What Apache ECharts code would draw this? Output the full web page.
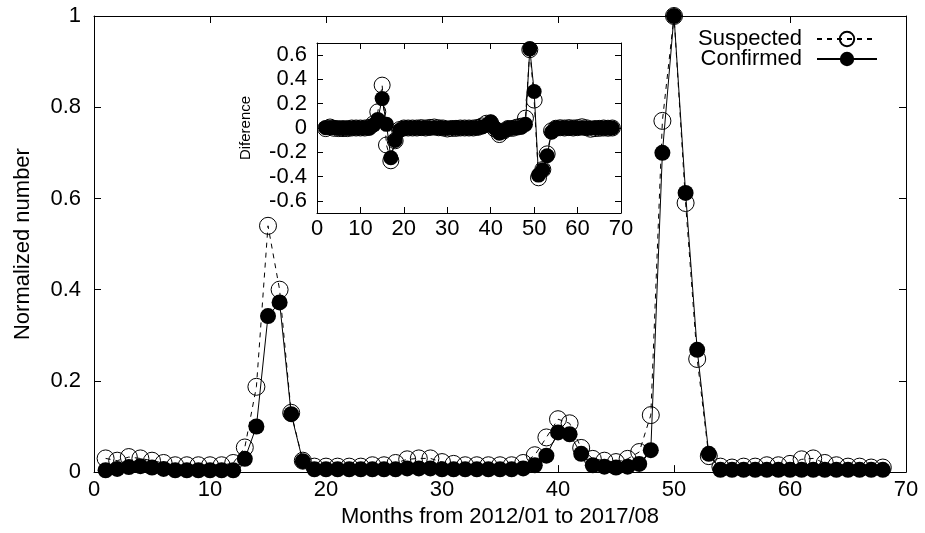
<!DOCTYPE html>
<html>
<head>
<meta charset="utf-8">
<script src="https://cdn.jsdelivr.net/npm/echarts@6/dist/echarts.min.js"></script>
<style>html,body{margin:0;padding:0;background:#fff}#c{width:925px;height:533px}</style>
</head>
<body>
<div id="c"></div>
<script>
// Main chart: months 1..68 (2012/01 .. 2017/08)
var months = [];
for (var i = 1; i <= 68; i++) months.push(i);
var suspected = [
  0.030, 0.025, 0.033, 0.030, 0.025, 0.020, 0.015, 0.015, 0.015, 0.015,
  0.015, 0.020, 0.054, 0.187, 0.540, 0.400, 0.130, 0.025, 0.012, 0.012,
  0.012, 0.012, 0.012, 0.015, 0.015, 0.020, 0.028, 0.030, 0.030, 0.022,
  0.018, 0.015, 0.015, 0.015, 0.015, 0.015, 0.020, 0.037, 0.076, 0.116,
  0.107, 0.053, 0.029, 0.025, 0.022, 0.029, 0.044, 0.125, 0.770, 1.000,
  0.590, 0.248, 0.035, 0.012, 0.010, 0.012, 0.012, 0.015, 0.015, 0.018,
  0.028, 0.030, 0.020, 0.015, 0.012, 0.012, 0.010, 0.010
];
var confirmed = [
  0.004, 0.007, 0.011, 0.013, 0.010, 0.007, 0.004, 0.004, 0.004, 0.004,
  0.004, 0.004, 0.029, 0.100, 0.342, 0.372, 0.127, 0.024, 0.006, 0.006,
  0.006, 0.006, 0.006, 0.006, 0.006, 0.006, 0.008, 0.008, 0.008, 0.006,
  0.006, 0.006, 0.006, 0.006, 0.006, 0.006, 0.008, 0.015, 0.036, 0.087,
  0.083, 0.040, 0.015, 0.012, 0.010, 0.012, 0.018, 0.048, 0.700, 1.000,
  0.612, 0.268, 0.040, 0.005, 0.005, 0.005, 0.005, 0.005, 0.005, 0.005,
  0.005, 0.005, 0.005, 0.005, 0.005, 0.005, 0.005, 0.005
];
// Inset: difference, months 2..68
var diffMonths = [];
for (var j = 2; j <= 68; j++) diffMonths.push(j);
var suspectedDiff = [
  -0.005, 0.008, -0.003, -0.005, -0.005, -0.005, 0, 0, 0, 0,
  0.005, 0.034, 0.133, 0.353, -0.140, -0.270, -0.105, -0.013, 0, 0,
  0, 0, 0.003, 0, 0.005, 0.008, 0.002, 0, -0.008, -0.004,
  -0.003, 0, 0, 0, 0, 0.005, 0.017, 0.039, 0.040, -0.009,
  -0.054, -0.024, -0.004, -0.003, 0.007, 0.015, 0.081, 0.645, 0.230, -0.410,
  -0.342, -0.213, -0.023, -0.002, 0.002, 0, 0.003, 0, 0.003, 0.010,
  0.002, -0.010, -0.005, -0.003, 0, -0.002, 0
];
var confirmedDiff = [
  0.003, 0.004, 0.002, -0.003, -0.003, -0.003, 0, 0, 0, 0,
  0, 0.025, 0.071, 0.242, 0.030, -0.245, -0.103, -0.018, 0, 0,
  0, 0, 0, 0, 0, 0.002, 0, 0, -0.002, 0,
  0, 0, 0, 0, 0, 0.002, 0.009, 0.021, 0.051, -0.004,
  -0.043, -0.025, -0.003, -0.002, 0.002, 0.006, 0.030, 0.652, 0.300, -0.388,
  -0.344, -0.228, -0.035, 0, 0, 0, 0, 0, 0, 0,
  0, 0, 0, 0, 0, 0, 0
];
var mainYTicks = [0, 0.2, 0.4, 0.6, 0.8, 1];
var insetYTicks = [-0.6, -0.4, -0.2, 0, 0.2, 0.4, 0.6];

function pairs(xs, ys) { return xs.map(function (x, k) { return [x, ys[k]]; }); }

var FONT = "'Liberation Sans', Arial, Helvetica, sans-serif";
var FS = 22;
var lineAx = { show: true, onZero: false, lineStyle: { color: '#000', width: 1 } };
function xAx(grid, pos, labels, tickLen, margin, extra) {
  var o = {
    type: 'value', gridIndex: grid, position: pos, min: 0, max: 70, interval: 10,
    axisLine: lineAx, splitLine: { show: false },
    axisTick: { show: true, inside: true, length: tickLen, lineStyle: { color: '#000' } },
    axisLabel: { show: labels, color: '#000', fontFamily: FONT, fontSize: FS, margin: margin }
  };
  for (var k in extra) o[k] = extra[k];
  return o;
}
function yAx(grid, pos, labels, min, max, ticks, tickLen, margin, extra) {
  var o = {
    type: 'value', gridIndex: grid, position: pos, min: min, max: max,
    axisLine: lineAx, splitLine: { show: false },
    axisTick: { show: true, inside: true, length: tickLen, customValues: ticks, lineStyle: { color: '#000' } },
    axisLabel: { show: labels, color: '#000', fontFamily: FONT, fontSize: FS, margin: margin, customValues: ticks }
  };
  for (var k in extra) o[k] = extra[k];
  return o;
}

var chart = echarts.init(document.getElementById('c'), null, { renderer: 'canvas' });
chart.setOption({
  animation: false,
  backgroundColor: '#fff',
  textStyle: { fontFamily: FONT },
  grid: [
    { left: 94, top: 16, width: 812, height: 459, containLabel: false },
    { left: 317, top: 43, width: 304, height: 170, containLabel: false, show: true, backgroundColor: '#fff', borderWidth: 0, z: 5 }
  ],
  legend: {
    orient: 'vertical', right: 47, top: 28, align: 'right', padding: 0,
    itemWidth: 60, itemHeight: 18, itemGap: -2,
    textStyle: { color: '#000', fontFamily: FONT, fontSize: FS, lineHeight: 18, padding: [0, 10, 0, 0] },
    data: ['Suspected', 'Confirmed']
  },
  xAxis: [
    xAx(0, 'bottom', true, 7, 7, { name: 'Months from 2012/01 to 2017/08', nameLocation: 'middle', nameGap: 31, nameTextStyle: { color: '#000', fontFamily: FONT, fontSize: FS } }),
    xAx(0, 'top', false, 7, 7, {}),
    xAx(1, 'bottom', true, 6, 5, { z: 6 }),
    xAx(1, 'top', false, 6, 5, { z: 6 })
  ],
  yAxis: [
    yAx(0, 'left', true, 0, 1, mainYTicks, 7, 13, {
      name: 'Normalized number', nameLocation: 'middle', nameGap: 60,
      nameTextStyle: { color: '#000', fontFamily: FONT, fontSize: FS }
    }),
    yAx(0, 'right', false, 0, 1, mainYTicks, 7, 8, {}),
    yAx(1, 'left', true, -0.7, 0.7, insetYTicks, 6, 10, {
      z: 6, name: 'Diference', nameLocation: 'middle', nameGap: 64,
      nameTextStyle: { color: '#000', fontFamily: FONT, fontSize: 15 }
    }),
    yAx(1, 'right', false, -0.7, 0.7, insetYTicks, 6, 8, { z: 6 })
  ],
  series: [
    {
      name: 'Suspected', type: 'line', xAxisIndex: 0, yAxisIndex: 0,
      data: pairs(months, suspected), symbol: 'circle', symbolSize: 17, showAllSymbol: true,
      lineStyle: { color: '#000', width: 1, type: [5, 5] },
      itemStyle: { color: 'rgba(255,255,255,0)', borderColor: '#000', borderWidth: 1 },
      emphasis: { disabled: true }, z: 2
    },
    {
      name: 'Confirmed', type: 'line', xAxisIndex: 0, yAxisIndex: 0,
      data: pairs(months, confirmed), symbol: 'circle', symbolSize: 16, showAllSymbol: true,
      lineStyle: { color: '#000', width: 1 },
      itemStyle: { color: '#000', borderColor: '#000', borderWidth: 0 },
      emphasis: { disabled: true }, z: 3
    },
    {
      name: 'SuspectedDiff', type: 'line', xAxisIndex: 2, yAxisIndex: 2,
      data: pairs(diffMonths, suspectedDiff), symbol: 'circle', symbolSize: 16, showAllSymbol: true,
      lineStyle: { color: '#000', width: 1, type: [5, 5] },
      itemStyle: { color: 'rgba(255,255,255,0)', borderColor: '#000', borderWidth: 1 },
      emphasis: { disabled: true }, z: 7
    },
    {
      name: 'ConfirmedDiff', type: 'line', xAxisIndex: 2, yAxisIndex: 2,
      data: pairs(diffMonths, confirmedDiff), symbol: 'circle', symbolSize: 15, showAllSymbol: true,
      lineStyle: { color: '#000', width: 1 },
      itemStyle: { color: '#000', borderWidth: 0 },
      emphasis: { disabled: true }, z: 8
    }
  ]
});
</script>
</body>
</html>
